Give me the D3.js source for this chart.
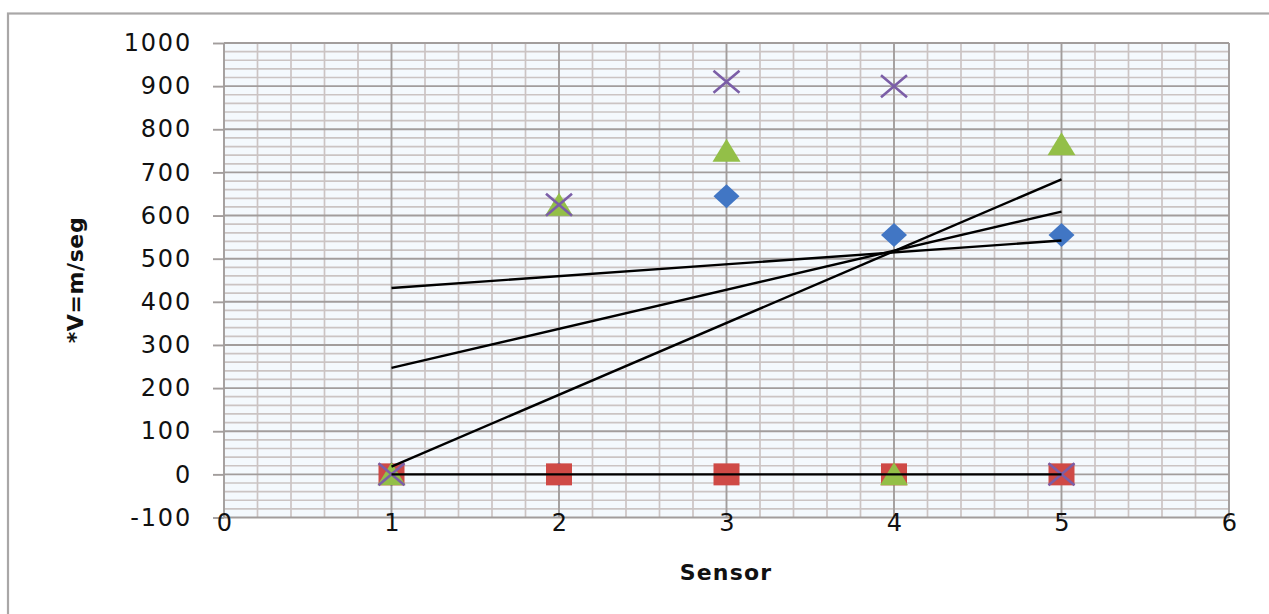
<!DOCTYPE html>
<html>
<head>
<meta charset="utf-8">
<script src="https://cdn.jsdelivr.net/npm/d3@7"></script>
<style>
  html, body { margin: 0; padding: 0; background: #ffffff; }
  svg { display: block; }
</style>
</head>
<body>
<svg id="chart" width="1269" height="614"></svg>
<script>
// ---- data ----
const sensors = [1, 2, 3, 4, 5];
const seriesDiamond = [0, 0, 645, 555, 555];
const seriesSquare = [0, 0, 0, 0, 0];
const seriesTriangle = [0, 625, 750, 0, 765];
const seriesCross = [0, 625, 910, 900, 0];
const xTicks = [0, 1, 2, 3, 4, 5, 6];
const yTicks = [-100, 0, 100, 200, 300, 400, 500, 600, 700, 800, 900, 1000];
const xTitle = "Sensor";
const yTitle = "*V=m/seg";

const svg = d3.select("#chart");

// chart area border
svg.append("rect")
  .attr("x", 8).attr("y", 13.5).attr("width", 1265).attr("height", 620)
  .attr("fill", "#ffffff").attr("stroke", "#a9a7a7").attr("stroke-width", 2.2);

const x = d3.scaleLinear().domain([0, 6]).range([224, 1229]);
const y = d3.scaleLinear().domain([-100, 1000]).range([517.5, 43]);

// plot background
svg.append("rect")
  .attr("x", x(0)).attr("y", y(1000))
  .attr("width", x(6) - x(0)).attr("height", y(-100) - y(1000))
  .attr("fill", "#f4f9fd");

const grid = svg.append("g");
const yMinor = d3.range(-100, 1000.1, 20).filter(v => v % 100 !== 0);
grid.selectAll(".hmin").data(yMinor).join("line")
  .attr("x1", x(0)).attr("x2", x(6))
  .attr("y1", d => y(d)).attr("y2", d => y(d))
  .attr("stroke", "#cbc4c3").attr("stroke-width", 1.7);
const xMinor = d3.range(0, 6.01, 0.2).filter(v => Math.abs(v - Math.round(v)) > 0.01);
grid.selectAll(".vmin").data(xMinor).join("line")
  .attr("x1", d => x(d)).attr("x2", d => x(d))
  .attr("y1", y(1000)).attr("y2", y(-100))
  .attr("stroke", "#cbc4c3").attr("stroke-width", 1.7);
grid.selectAll(".hmaj").data(yTicks).join("line")
  .attr("x1", x(0)).attr("x2", x(6))
  .attr("y1", d => y(d)).attr("y2", d => y(d))
  .attr("stroke", "#a29d9c").attr("stroke-width", 1.9);
grid.selectAll(".vmaj").data(xTicks).join("line")
  .attr("x1", d => x(d)).attr("x2", d => x(d))
  .attr("y1", y(1000)).attr("y2", y(-100))
  .attr("stroke", "#a29d9c").attr("stroke-width", 1.9);

// axes
const fmt = d => String(d);
const yAxis = svg.append("g")
  .attr("transform", `translate(${x(0)},0)`)
  .call(d3.axisLeft(y).tickValues(yTicks).tickSize(11).tickPadding(21).tickFormat(fmt));
yAxis.select(".domain").remove();
yAxis.selectAll(".tick line").attr("stroke", "#a29d9c").attr("stroke-width", 1.9);
yAxis.selectAll(".tick text")
  .attr("font-family", "'DejaVu Sans', sans-serif").attr("font-size", 24)
  .attr("letter-spacing", "1.8px").attr("fill", "#111");

const xAxis = svg.append("g")
  .attr("transform", `translate(0,${y(-100)})`)
  .call(d3.axisBottom(x).tickValues(xTicks).tickSize(0).tickPadding(-4).tickFormat(fmt));
xAxis.select(".domain").remove();
xAxis.selectAll(".tick text")
  .attr("font-family", "'DejaVu Sans', sans-serif").attr("font-size", 24)
  .attr("fill", "#111");

// titles
svg.append("text")
  .attr("x", 726).attr("y", 580)
  .attr("text-anchor", "middle")
  .attr("font-family", "'DejaVu Sans', sans-serif").attr("font-weight", "bold")
  .attr("font-size", 22).attr("letter-spacing", "1.2px").attr("fill", "#111")
  .text(xTitle);
svg.append("text")
  .attr("transform", "translate(83,280) rotate(-90)")
  .attr("text-anchor", "middle")
  .attr("font-family", "'DejaVu Sans', sans-serif").attr("font-weight", "bold")
  .attr("font-size", 22).attr("letter-spacing", "0.6px").attr("fill", "#111")
  .text(yTitle);

// markers
const mw = 13, mh = 11;
const shapes = {
  diamond: `M0,${-mh - 1}L${mw},0L0,${mh + 1}L${-mw},0Z`,
  square: `M${-mw},${-mh}L${mw},${-mh}L${mw},${mh}L${-mw},${mh}Z`,
  triangle: `M0,${-mh - 1}L${mw + 1},${mh}L${-mw - 1},${mh}Z`,
  cross: `M${-mw},${-mh}L${mw},${mh}M${-mw},${mh}L${mw},${-mh}`
};
const series = [
  { name: "diamond", values: seriesDiamond, color: "#4176c4" },
  { name: "square", values: seriesSquare, color: "#cf4a46" },
  { name: "triangle", values: seriesTriangle, color: "#93bf48" },
  { name: "cross", values: seriesCross, color: "#7b5ea7" }
];

const markG = svg.append("g");
series.forEach(s => {
  markG.selectAll(null).data(sensors.map((sx, i) => ({ x: sx, y: s.values[i] })))
    .join("path")
    .attr("transform", d => `translate(${x(d.x)},${y(d.y)})`)
    .attr("d", shapes[s.name])
    .attr("fill", s.name === "cross" ? "none" : s.color)
    .attr("stroke", s.name === "cross" ? s.color : "none")
    .attr("stroke-width", s.name === "cross" ? 2.6 : 0);
});

// linear trendlines (least squares from the data)
function fit(xs, ys) {
  const mx = d3.mean(xs), my = d3.mean(ys);
  let sxy = 0, sxx = 0;
  for (let i = 0; i < xs.length; i++) { sxy += (xs[i] - mx) * (ys[i] - my); sxx += (xs[i] - mx) ** 2; }
  const b = sxy / sxx;
  return t => my + b * (t - mx);
}
const trendG = svg.append("g");
series.forEach(s => {
  const f = fit(sensors, s.values);
  const x0 = d3.min(sensors), x1 = d3.max(sensors);
  trendG.append("line")
    .attr("x1", x(x0)).attr("y1", y(f(x0)))
    .attr("x2", x(x1)).attr("y2", y(f(x1)))
    .attr("stroke", "#000").attr("stroke-width", 2.4);
});
</script>
</body>
</html>
